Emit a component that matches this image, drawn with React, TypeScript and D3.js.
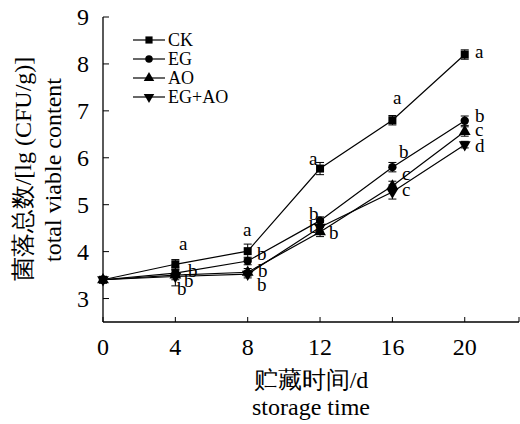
import React from 'react';
import * as d3 from 'd3';

// storage days
const days = [0, 4, 8, 12, 16, 20];
const seriesNames = ['CK', 'EG', 'AO', 'EG+AO'];

// lg(CFU/g) per series
const ckValues = [3.4, 3.73, 4.01, 5.77, 6.8, 8.2];
const egValues = [3.4, 3.54, 3.8, 4.66, 5.8, 6.79];
const aoValues = [3.4, 3.5, 3.56, 4.42, 5.4, 6.56];
const egaoValues = [3.4, 3.47, 3.52, 4.52, 5.27, 6.28];

// error bar half-widths
const ckErr = [0, 0.1, 0.15, 0.13, 0.1, 0.1];
const egErr = [0, 0.08, 0.08, 0.08, 0.1, 0.1];
const aoErr = [0, 0.1, 0.08, 0.1, 0.1, 0.1];
const egaoErr = [0, 0.2, 0.08, 0.1, 0.15, 0.07];

// significance letters
const ckLetters = ['', 'a', 'a', 'a', 'a', 'a'];
const egLetters = ['', 'b', 'b', 'b', 'b', 'b'];
const aoLetters = ['', 'b', 'b', 'b', 'c', 'c'];
const egaoLetters = ['', 'b', 'b', 'b', 'c', 'd'];

const xTicks = [0, 4, 8, 12, 16, 20];
const yTicks = [3, 4, 5, 6, 7, 8, 9];

const serif = { fontFamily: "'Liberation Serif'" };

// letter positions (left, baseline), placed by eye next to each point
const letterPos: [number, number][][] = [
    [[0, 0], [179, 250], [243, 236], [309, 165], [393, 104], [475, 58]],
    [[0, 0], [188, 277], [257, 260], [309, 220], [399, 158], [475, 122]],
    [[0, 0], [184, 287], [258, 277], [309, 233], [402, 180], [475, 136]],
    [[0, 0], [177, 295], [257, 291], [329, 239], [402, 196], [475, 152]],
];

const App: React.FC = () => {
    const x = d3.scaleLinear().domain([0, 23]).range([103, 519]);
    const y = d3.scaleLinear().domain([2.5, 9]).range([322, 17]);

    const allValues = [ckValues, egValues, aoValues, egaoValues];
    const allErr = [ckErr, egErr, aoErr, egaoErr];
    const allLetters = [ckLetters, egLetters, aoLetters, egaoLetters];
    const symbols = [d3.symbolSquare, d3.symbolCircle, d3.symbolTriangle, d3.symbolTriangle];
    const sizes = [64, 55, 60, 60];
    const rotations = [0, 0, 0, 180];

    const line = d3.line<number>().x((d, i) => x(days[i])).y(d => y(d));
    const midX = (x(0) + x(23)) / 2;

    return (
        <svg width={520} height={424} style={{ position: 'absolute', left: 0, top: 0, background: '#fff' }}>
            {/* axes */}
            <line x1={x(0)} x2={x(0)} y1={y(9)} y2={y(2.5)} stroke="#000" strokeWidth={1.3} />
            <line x1={x(0)} x2={x(23)} y1={y(2.5)} y2={y(2.5)} stroke="#000" strokeWidth={1.3} />
            {yTicks.map(t => (
                <g key={'y' + t}>
                    <line x1={x(0)} x2={x(0) + 6} y1={y(t)} y2={y(t)} stroke="#000" />
                    <text x={89} y={y(t)} dy="0.35em" textAnchor="end" fontSize={24} style={serif}>{t}</text>
                </g>
            ))}
            {xTicks.concat([23]).map(t => (
                <line key={'xt' + t} x1={x(t)} x2={x(t)} y1={y(2.5)} y2={y(2.5) - 5} stroke="#000" />
            ))}
            {xTicks.map(t => (
                <text key={'x' + t} x={x(t)} y={355} textAnchor="middle" fontSize={24} style={serif}>{t}</text>
            ))}

            {/* axis titles */}
            <text x={midX} y={388} textAnchor="middle" fontSize={24} style={serif}>贮藏时间/d</text>
            <text x={midX} y={415} textAnchor="middle" fontSize={24} style={serif}>storage time</text>
            <text transform="translate(31,169) rotate(-90)" textAnchor="middle" fontSize={24} style={serif}>菌落总数/[lg (CFU/g)]</text>
            <text transform="translate(61,170) rotate(-90)" textAnchor="middle" fontSize={24} style={serif}>total viable content</text>

            {/* lines */}
            {allValues.map((vals, s) => (
                <path key={'l' + s} d={line(vals) || ''} fill="none" stroke="#000" strokeWidth={1.2} />
            ))}

            {/* error bars and markers */}
            {allValues.map((vals, s) => vals.map((v, i) => {
                const e = allErr[s][i];
                const cx = x(days[i]);
                return (
                    <g key={`m${s}-${i}`}>
                        {e > 0 && (
                            <g stroke="#000">
                                <line x1={cx} x2={cx} y1={y(v - e)} y2={y(v + e)} />
                                <line x1={cx - 4} x2={cx + 4} y1={y(v - e)} y2={y(v - e)} />
                                <line x1={cx - 4} x2={cx + 4} y1={y(v + e)} y2={y(v + e)} />
                            </g>
                        )}
                        <path d={d3.symbol().type(symbols[s]).size(sizes[s])() || ''}
                            transform={`translate(${cx},${y(v)}) rotate(${rotations[s]})`} fill="#000" />
                    </g>
                );
            }))}

            {/* significance letters */}
            {allLetters.map((letters, s) => letters.map((l, i) => l ? (
                <text key={`t${s}-${i}`} x={letterPos[s][i][0]} y={letterPos[s][i][1]} fontSize={19} style={serif}>{l}</text>
            ) : null))}

            {/* legend */}
            <g transform="translate(133,40)">
                {seriesNames.map((name, i) => (
                    <g key={name} transform={`translate(0,${i * 19})`}>
                        <line x1={0} x2={32} y1={0} y2={0} stroke="#000" strokeWidth={1.2} />
                        <path d={d3.symbol().type(symbols[i]).size(sizes[i] * 0.8)() || ''}
                            transform={`translate(16,0) rotate(${rotations[i]})`} fill="#000" />
                        <text x={35} y={0} dy="0.35em" fontSize={18} style={serif}>{name}</text>
                    </g>
                ))}
            </g>
        </svg>
    );
};

export default App;
